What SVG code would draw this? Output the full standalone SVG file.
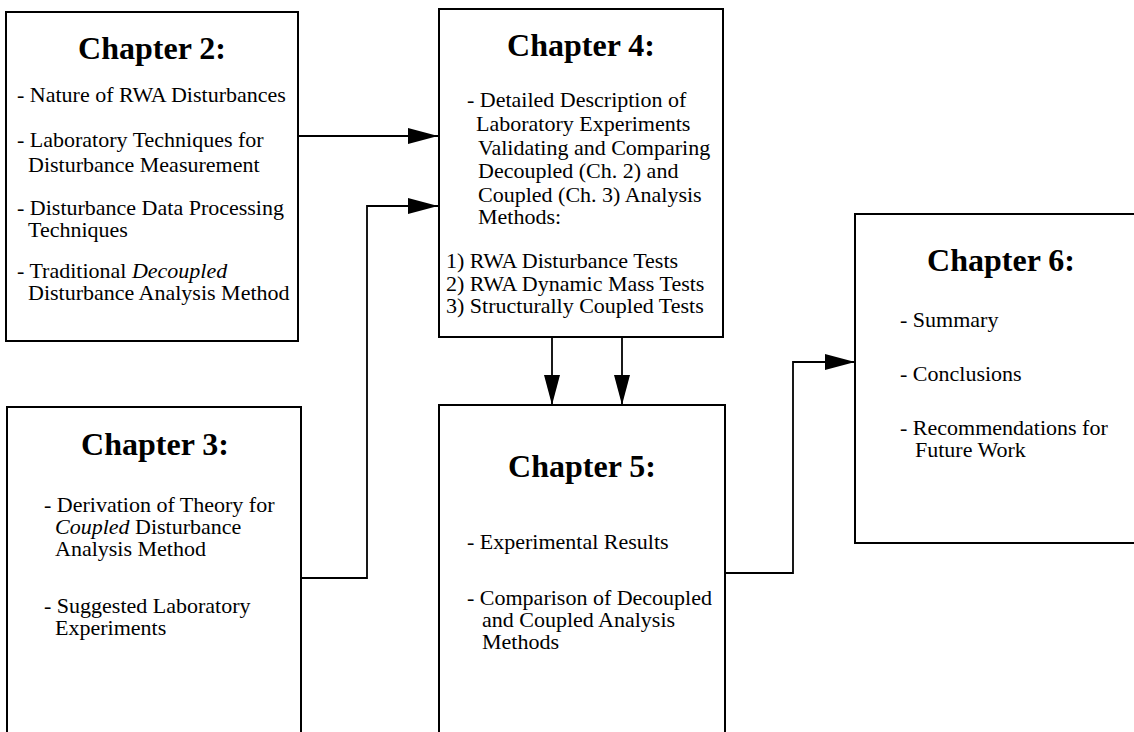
<svg xmlns="http://www.w3.org/2000/svg" width="1134" height="732" viewBox="0 0 1134 732">
<style>
.box{fill:#fff;stroke:#000;stroke-width:2}
.title{font-family:"Liberation Serif","Times New Roman",serif;font-weight:bold;font-size:32px;fill:#000;text-anchor:middle}
.body{font-family:"Liberation Serif","Times New Roman",serif;font-size:22px;fill:#000}
.conn{fill:none;stroke:#000;stroke-width:1.8}
.it{font-style:italic}
</style>
<defs>
<marker id="ah" markerUnits="userSpaceOnUse" markerWidth="30" markerHeight="16" refX="30" refY="8" orient="auto" viewBox="0 0 30 16">
<path d="M0,0 L30,8 L0,16 z" fill="#000"/>
</marker>
</defs>
<rect width="1134" height="732" fill="#fff"/>
<g id="ch2">
<rect class="box" x="6" y="12" width="292" height="329"/>
<text class="title" x="152" y="59">Chapter 2:</text>
<text class="body" x="17" y="102">- Nature of RWA Disturbances</text>
<text class="body" x="17" y="147">- Laboratory Techniques for</text>
<text class="body" x="28" y="172">Disturbance Measurement</text>
<text class="body" x="17" y="215">- Disturbance Data Processing</text>
<text class="body" x="28" y="237">Techniques</text>
<text class="body" x="17" y="278">- Traditional <tspan class="it">Decoupled</tspan></text>
<text class="body" x="28" y="300">Disturbance Analysis Method</text>
</g>
<g id="ch3">
<rect class="box" x="7" y="407" width="294" height="340"/>
<text class="title" x="155" y="455">Chapter 3:</text>
<text class="body" x="44" y="512">- Derivation of Theory for</text>
<text class="body" x="55" y="534"><tspan class="it">Coupled</tspan> Disturbance</text>
<text class="body" x="55" y="556">Analysis Method</text>
<text class="body" x="44" y="613">- Suggested Laboratory</text>
<text class="body" x="55" y="635">Experiments</text>
</g>
<g id="ch4">
<rect class="box" x="439" y="9" width="284" height="328"/>
<text class="title" x="581" y="56">Chapter 4:</text>
<text class="body" x="467" y="107">- Detailed Description of</text>
<text class="body" x="476" y="131">Laboratory Experiments</text>
<text class="body" x="478" y="155">Validating and Comparing</text>
<text class="body" x="478" y="178">Decoupled (Ch. 2) and</text>
<text class="body" x="478" y="202">Coupled (Ch. 3) Analysis</text>
<text class="body" x="478" y="224">Methods:</text>
<text class="body" x="446" y="268">1) RWA Disturbance Tests</text>
<text class="body" x="446" y="291">2) RWA Dynamic Mass Tests</text>
<text class="body" x="446" y="313">3) Structurally Coupled Tests</text>
</g>
<g id="ch5">
<rect class="box" x="439" y="405" width="286" height="340"/>
<text class="title" x="582" y="477">Chapter 5:</text>
<text class="body" x="467" y="549">- Experimental Results</text>
<text class="body" x="467" y="605">- Comparison of Decoupled</text>
<text class="body" x="482" y="627">and Coupled Analysis</text>
<text class="body" x="482" y="649">Methods</text>
</g>
<g id="ch6">
<rect class="box" x="855" y="214" width="295" height="329"/>
<text class="title" x="1001" y="271">Chapter 6:</text>
<text class="body" x="900" y="327">- Summary</text>
<text class="body" x="900" y="381">- Conclusions</text>
<text class="body" x="900" y="435">- Recommendations for</text>
<text class="body" x="915" y="457">Future Work</text>
</g>
<g id="connectors">
<path class="conn" d="M298,136 L438,136" marker-end="url(#ah)"/>
<path class="conn" d="M301,578 L367,578 L367,206 L438,206" marker-end="url(#ah)"/>
<path class="conn" d="M552,337 L552,405" marker-end="url(#ah)"/>
<path class="conn" d="M622,337 L622,405" marker-end="url(#ah)"/>
<path class="conn" d="M725,573 L793,573 L793,362 L855,362" marker-end="url(#ah)"/>
</g>
</svg>
